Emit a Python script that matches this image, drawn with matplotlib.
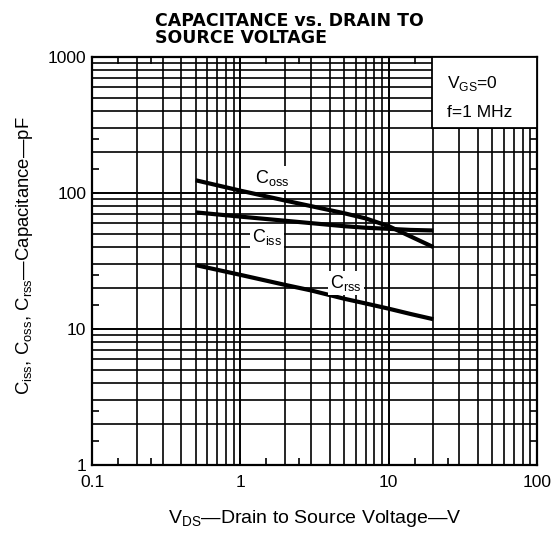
import numpy as np
import matplotlib
matplotlib.use('Agg')
import matplotlib.pyplot as plt
from matplotlib.ticker import FixedLocator, FuncFormatter, NullFormatter
from matplotlib.patches import Rectangle

plt.rcParams['font.family'] = ['Liberation Sans', 'DejaVu Sans']
plt.rcParams['mathtext.fontset'] = 'custom'
plt.rcParams['mathtext.rm'] = 'Liberation Sans'

# Values (VDS in V, capacitance in pF)
vds = [0.5, 1, 2, 3, 5, 7, 10, 14, 20]
coss = [124, 104, 88, 80, 71, 65, 57, 48, 40]
ciss = [72, 67, 62.5, 60, 57, 55.5, 54.5, 53.5, 53]
crss = [29.5, 25.0, 21.1, 19.2, 16.7, 15.4, 14.1, 12.9, 11.8]

curve_labels = {'Coss': (1.64, 129), 'Ciss': (1.51, 47.5), 'Crss': (5.16, 21.8)}

fig = plt.figure(figsize=(5.55, 5.42), dpi=100)
ax = fig.add_axes([0.1658, 0.1421, 0.8018, 0.7528])
ax.set_xscale('log')
ax.set_yscale('log')
ax.set_xlim(0.1, 100)
ax.set_ylim(1, 1000)

decades = [0.1, 1, 10, 100]
ydecades = [1, 10, 100, 1000]
half_x = [d * m for d in decades[:-1] for m in (1.5, 2.5)]
half_y = [d * m for d in ydecades[:-1] for m in (1.5, 2.5)]
grid_x = [d * m for d in decades[:-1] for m in range(2, 10)]
grid_y = [d * m for d in ydecades[:-1] for m in range(2, 10)]

ax.xaxis.set_major_locator(FixedLocator(decades + half_x))
ax.yaxis.set_major_locator(FixedLocator(ydecades + half_y))
fmt = FuncFormatter(lambda v, p: ('%g' % v) if any(np.isclose(v, d) for d in decades + ydecades) else '')
ax.xaxis.set_major_formatter(fmt)
ax.yaxis.set_major_formatter(fmt)
ax.xaxis.set_minor_locator(FixedLocator(grid_x))
ax.yaxis.set_minor_locator(FixedLocator(grid_y))
ax.xaxis.set_minor_formatter(NullFormatter())
ax.yaxis.set_minor_formatter(NullFormatter())
ax.tick_params(which='major', direction='in', length=5, width=1.2, top=True, right=True,
               labelsize=12.5, color='black')
ax.tick_params(axis='x', which='major', pad=7)
ax.tick_params(axis='y', which='major', pad=4)
ax.tick_params(which='minor', length=0)
ax.grid(which='minor', color='black', linewidth=1.2)
for v in decades[1:-1]:
    ax.axvline(v, color='black', linewidth=1.4)
for v in ydecades[1:-1]:
    ax.axhline(v, color='black', linewidth=1.4)
for s in ax.spines.values():
    s.set_linewidth(1.6)

ax.plot(vds, coss, color='black', linewidth=3.0, solid_capstyle='butt', zorder=4)
ax.plot(vds, ciss, color='black', linewidth=3.0, solid_capstyle='butt', zorder=4)
ax.plot(vds, crss, color='black', linewidth=3.0, solid_capstyle='butt', zorder=4)

for name, (x, y) in curve_labels.items():
    ax.text(x, y, r'C$_{\mathregular{%s}}$' % name[1:], fontsize=13, ha='center', va='center',
            zorder=5, bbox=dict(facecolor='white', edgecolor='none', pad=1.5))

# condition box in the upper right corner
ax.add_patch(Rectangle((0.763, 0.826), 0.237, 0.174, transform=ax.transAxes,
                       facecolor='white', edgecolor='black', linewidth=1.3, zorder=3))
ax.text(0.798, 0.936, r'V$_{\mathregular{GS}}$=0', transform=ax.transAxes, fontsize=12.5,
        va='center', zorder=5)
ax.text(0.798, 0.865, 'f=1 MHz', transform=ax.transAxes, fontsize=12.5, va='center', zorder=5)

fig.text(0.279, 0.978, 'CAPACITANCE vs. DRAIN TO\nSOURCE VOLTAGE', fontsize=12.5,
         family='DejaVu Sans', fontweight='bold', ha='left', va='top', linespacing=0.95)
ax.set_xlabel(r'V$_{\mathregular{DS}}$—Drain to Source Voltage—V', fontsize=14)
ax.xaxis.set_label_coords(0.5, -0.105)
ax.set_ylabel(r'C$_{\mathregular{iss}}$, C$_{\mathregular{oss}}$, C$_{\mathregular{rss}}$—Capacitance—pF',
              fontsize=13.3)
ax.yaxis.set_label_coords(-0.128, 0.512)

fig.savefig('out.png', dpi=100)
